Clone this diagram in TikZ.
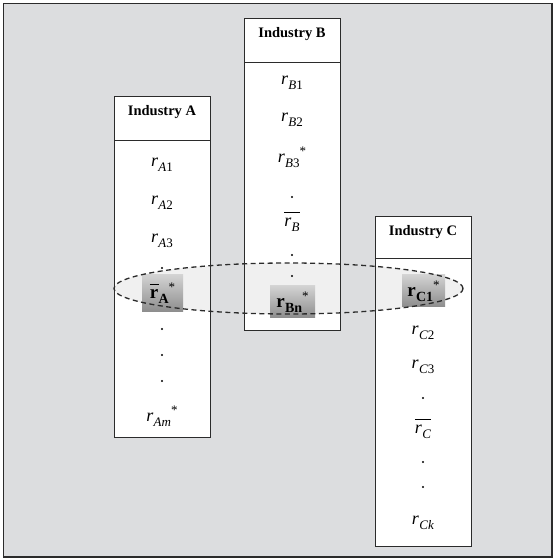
\documentclass[tikz,border=0pt]{standalone}
\usepackage{fontspec}
\setmainfont{Liberation Serif}
\usetikzlibrary{positioning,shapes.geometric}
\definecolor{bggray}{HTML}{DCDDDF}
\definecolor{edge}{HTML}{2B2B2B}
% r with a lowered index and an optional star
\newcommand{\rsub}[2]{\textit{r}\kern0.3pt\raisebox{-5pt}{\fontsize{13}{14}\selectfont\textit{#1}#2}}
\newcommand{\rstar}{\raisebox{7pt}{\fontsize{13}{14}\selectfont*}}
\newcommand{\rbold}[1]{\textbf{r}\kern0.3pt\raisebox{-5pt}{\fontsize{14}{15}\selectfont\textbf{#1}}\raisebox{7pt}{\fontsize{13}{14}\selectfont*}}

\begin{document}
\begin{tikzpicture}[x=1pt,y=1pt,
	hdr/.style={draw=edge, fill=white, line width=0.9pt, minimum width=96pt, minimum height=44pt, outer sep=0pt, inner sep=0pt},
	body/.style={draw=edge, fill=white, line width=0.9pt, minimum width=96pt, outer sep=0pt, inner sep=0pt},
	htext/.style={font=\fontsize{14.5}{16}\selectfont\bfseries, anchor=base, inner sep=0pt},
	item/.style={font=\fontsize{18}{20}\selectfont, inner sep=0pt},
	pt/.style={circle, fill=black, inner sep=0pt, minimum size=2.3pt},
	hit/.style={shade, top color=gray!35, bottom color=gray!90, inner sep=0pt, font=\fontsize{19}{21}\selectfont},
	ring/.style={ellipse, draw=edge, dash pattern=on 5pt off 3.5pt, line width=1.3pt, minimum width=349pt, minimum height=51pt, inner sep=0pt}]
			\useasboundingbox (0,0) rectangle (554,559);
			\filldraw[fill=bggray, draw=edge, line width=1.5pt] (3.5,2) rectangle (552,555.5);

			% the three industries
			\node[hdr] (hA) at (162,441) {};
			\node[body, minimum height=297.5pt, below=0pt of hA] (bA) {};
			\node[hdr] (hB) at (292,519) {};
			\node[body, minimum height=268pt, below=0pt of hB] (bB) {};
			\node[hdr, minimum height=42pt] (hC) at (423,322) {};
			\node[body, minimum height=288pt, below=0pt of hC] (bC) {};
			\node[htext] (tA) at ([yshift=-19.5pt]hA.north) {Industry A};
			\node[htext] (tB) at ([yshift=-19.5pt]hB.north) {Industry B};
			\node[htext] (tC) at ([yshift=-19.5pt]hC.north) {Industry C};

			% light band inside the ellipse
			\begin{scope}
				\clip (288.5,270.5) ellipse (174.5pt and 25.5pt);
				\fill[gray!12] ([shift={(0.5pt,0.5pt)}]bA.south west) rectangle ([shift={(-0.5pt,-0.5pt)}]bA.north east);
				\fill[gray!12] ([shift={(0.5pt,0.5pt)}]bB.south west) rectangle ([shift={(-0.5pt,-0.5pt)}]bB.north east);
				\fill[gray!12] ([shift={(0.5pt,0.5pt)}]bC.south west) rectangle ([shift={(-0.5pt,-0.5pt)}]bC.north east);
			\end{scope}

			% industry A
			\node[item] (a1) at (162,394) {\rsub{A}{1}};
			\node[item] (a2) at (162,356) {\rsub{A}{2}};
			\node[item] (a3) at (162,318) {\rsub{A}{3}};
			\node[pt] (a4) at (162,291) {};
			\node[hit, minimum width=41pt, minimum height=37pt] (sA) at (162.5,265.5) {\rlap{\rule[14pt]{9pt}{0.8pt}}\rbold{A}};
			\node[pt] (a5) at (162,230) {};
			\node[pt] (a6) at (162,204) {};
			\node[pt] (a7) at (162,178) {};
			\node[item] (am) at (162,143) {\rsub{A}{\textit{m}}\rstar};

			% industry B
			\node[item] (b1) at (292,476) {\rsub{B}{1}};
			\node[item] (b2) at (292,439) {\rsub{B}{2}};
			\node[item] (b3) at (292,402) {\rsub{B}{3}\rstar};
			\node[pt] (b4) at (292,362) {};
			\node[item, anchor=base] (mB) at (292,332) {\rlap{\rule[14pt]{16pt}{0.8pt}}\rsub{B}{}};
			\node[pt] (b5) at (292,304) {};
			\node[pt] (b6) at (292,283) {};
			\node[hit, minimum width=45pt, minimum height=32pt] (sB) at (292.5,257) {\rbold{Bn}};

			% industry C
			\node[hit, minimum width=43pt, minimum height=32pt] (sC) at (423.5,268) {\rbold{C1}};
			\node[item] (c2) at (423,226) {\rsub{C}{2}};
			\node[item] (c3) at (423,192) {\rsub{C}{3}};
			\node[pt] (c4) at (423,161) {};
			\node[item, anchor=base] (mC) at (423,125) {\rlap{\rule[14pt]{16pt}{0.8pt}}\rsub{C}{}};
			\node[pt] (c5) at (423,97) {};
			\node[pt] (c6) at (423,72) {};
			\node[item] (ck) at (423,36) {\rsub{C}{\textit{k}}};

			\node[ring] (sel) at (288.5,270.5) {};
		\end{tikzpicture}
\end{document}
